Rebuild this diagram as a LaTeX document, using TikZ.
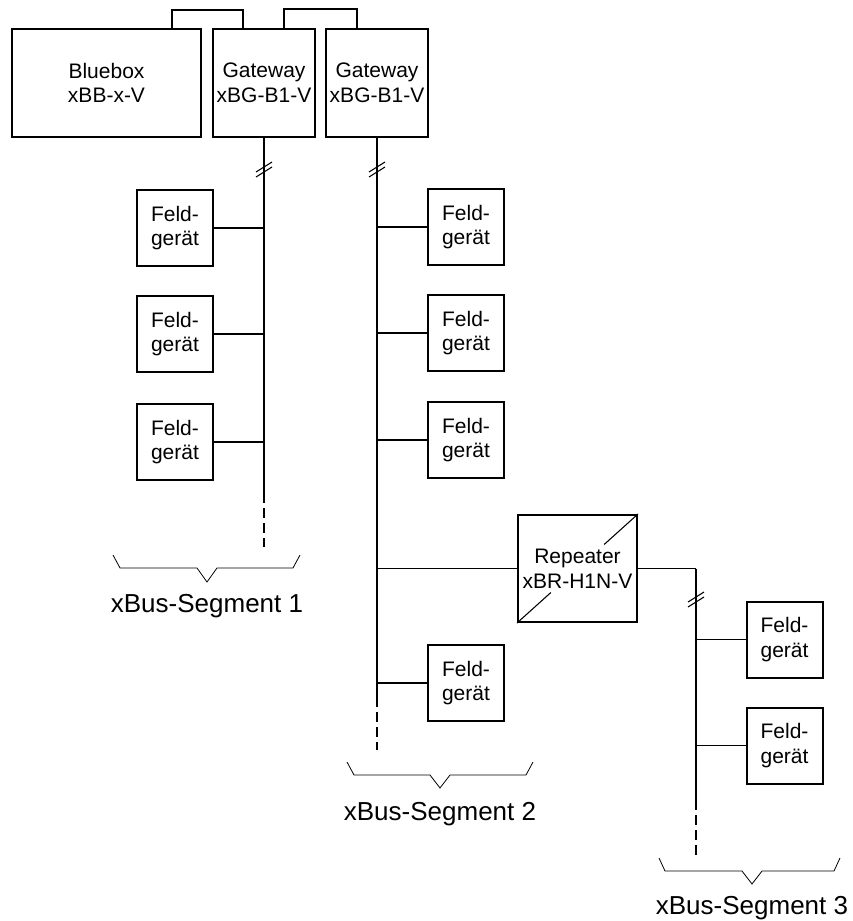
\documentclass[tikz,border=0pt]{standalone}
\usepackage{fontspec}
\setmainfont{Liberation Sans}
\usetikzlibrary{calc}

\begin{document}
\begin{tikzpicture}[
            x=0.75pt, y=-0.75pt,
            device/.style={
                    draw=black,
                    line width=1.5pt,
                    rectangle,
                    inner sep=1pt,
                    align=center,
                    font=\fontsize{15.75}{18.5}\selectfont
                },
            feld/.style={device, minimum width=57pt, minimum height=57pt},
            gateway/.style={device, minimum width=76.5pt, minimum height=81pt},
            bus/.style={line width=1.2pt},
            stub/.style={line width=0.8pt},
            busend/.style={bus, dash pattern=on 7.5pt off 3.75pt},
            brace/.style={line width=0.6pt},
            seglabel/.style={font=\fontsize{19.5}{23}\selectfont}
            ]
            \useasboundingbox (0,0) rectangle (853,921);

            % Bluebox und Gateways
            \node[device, minimum width=141.75pt, minimum height=81pt]
            (bluebox) at (106.5,83) {Bluebox\\xBB-x-V};
            \node[gateway] (gw1) at (264,83) {Gateway\\xBG-B1-V};
            \node[gateway] (gw2) at (377,83) {Gateway\\xBG-B1-V};
            \draw[bus] ($(bluebox.north east)+(-30,0)$) -- ++(0,-18)
            -| ($(gw1.north)+(-21,0)$);
            \draw[bus] ($(gw1.north)+(20,0)$) -- ++(0,-19)
            -| ($(gw2.north)+(-20,0)$);

            % xBus-Segment 1
            \coordinate (e1) at (264,493);
            \coordinate (d1) at (264,547);
            \coordinate (m1) at (264,170);
            \draw[bus] (gw1.south) -- (e1);
            \draw[busend] (e1) -- (d1);
            \draw[stub] ($(m1)+(-8,2)$) -- ++(16,-10);
            \draw[stub] ($(m1)+(-8,7)$) -- ++(16,-10);
            \node[feld] (fd11) at (175,228) {Feld-\\gerät};
            \node[feld] (fd12) at (175,334) {Feld-\\gerät};
            \node[feld] (fd13) at (175,442) {Feld-\\gerät};
            \draw[stub] (fd11.east) -- (fd11.east -| e1);
            \draw[stub] (fd12.east) -- (fd12.east -| e1);
            \draw[stub] (fd13.east) -- (fd13.east -| e1);

            % xBus-Segment 2
            \coordinate (e2) at (377,697);
            \coordinate (d2) at (377,750);
            \coordinate (m2) at (377,170);
            \draw[bus] (gw2.south) -- (e2);
            \draw[busend] (e2) -- (d2);
            \draw[stub] ($(m2)+(-8,2)$) -- ++(16,-10);
            \draw[stub] ($(m2)+(-8,7)$) -- ++(16,-10);
            \node[feld] (fd21) at (466,227) {Feld-\\gerät};
            \node[feld] (fd22) at (466,333) {Feld-\\gerät};
            \node[feld] (fd23) at (466,440) {Feld-\\gerät};
            \node[feld] (fd24) at (466,683) {Feld-\\gerät};
            \draw[stub] (fd21.west) -- (fd21.west -| e2);
            \draw[stub] (fd22.west) -- (fd22.west -| e2);
            \draw[stub] (fd23.west) -- (fd23.west -| e2);
            \draw[stub] (fd24.west) -- (fd24.west -| e2);

            % Repeater
            \node[device, minimum width=89.25pt, minimum height=80.25pt]
            (rep) at (577.5,568.5) {Repeater\\xBR-H1N-V};
            \draw[stub] (rep.south west)
            -- ($(rep.south west)!0.28!(rep.north east)$);
            \draw[stub] ($(rep.south west)!0.72!(rep.north east)$)
            -- (rep.north east);
            \draw[stub] (rep.west -| e2) -- (rep.west);

            % xBus-Segment 3
            \coordinate (t3) at (696,568.5);
            \coordinate (e3) at (696,800);
            \coordinate (d3) at (696,855);
            \coordinate (m3) at (696,600);
            \draw[stub] (rep.east) -- (t3);
            \draw[bus] (t3) -- (e3);
            \draw[busend] (e3) -- (d3);
            \draw[stub] ($(m3)+(-8,2)$) -- ++(16,-10);
            \draw[stub] ($(m3)+(-8,7)$) -- ++(16,-10);
            \node[feld] (fd31) at (784.5,639.5) {Feld-\\gerät};
            \node[feld] (fd32) at (784.5,745.5) {Feld-\\gerät};
            \draw[stub] (fd31.west) -- (fd31.west -| e3);
            \draw[stub] (fd32.west) -- (fd32.west -| e3);

            % Klammern und Beschriftung
            \draw[brace] (113,555) -- (120,568) -- (197,568) -- (207,582)
            -- (217,568) -- (293,568) -- (300,555);
            \node[seglabel] (seg1) at (207,606) {xBus-Segment 1};
            \draw[brace] (347,762) -- (354,775) -- (430,775) -- (440,788)
            -- (450,775) -- (526,775) -- (533,762);
            \node[seglabel] (seg2) at (440,814) {xBus-Segment 2};
            \draw[brace] (659,858) -- (665,871) -- (742,871) -- (752,884)
            -- (762,871) -- (834,871) -- (840,858);
            \node[seglabel] (seg3) at (752,908) {xBus-Segment 3};

        \end{tikzpicture}
\end{document}
